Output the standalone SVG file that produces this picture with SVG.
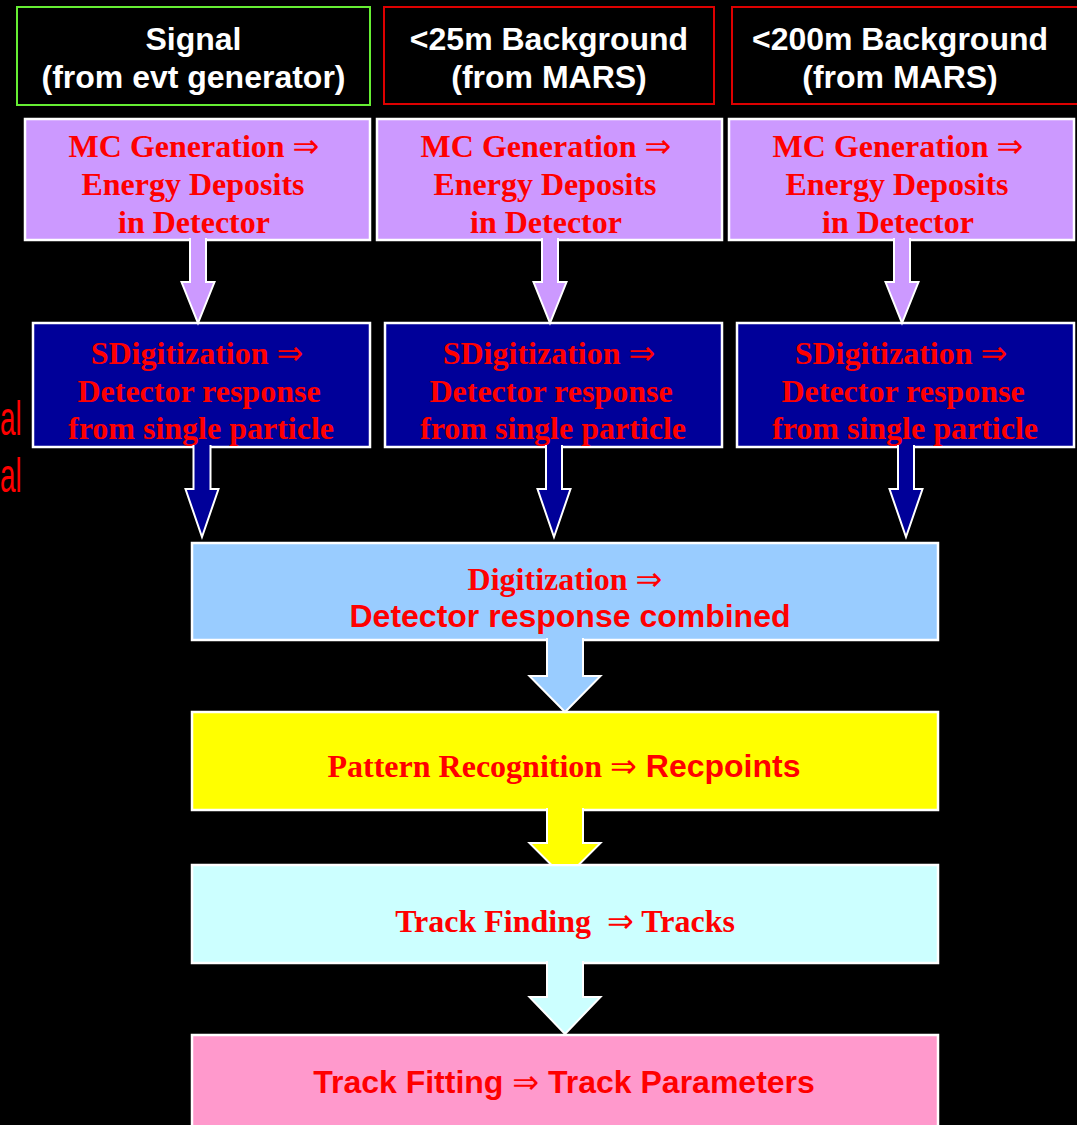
<svg xmlns="http://www.w3.org/2000/svg" width="1077" height="1125" viewBox="0 0 1077 1125">
<style>
.hdr{font-family:"Liberation Sans",Arial,sans-serif;font-weight:bold;font-size:32px;fill:#ffffff;text-anchor:middle}
.rs{font-family:"Liberation Serif","Times New Roman","DejaVu Serif",serif;font-weight:bold;font-size:32px;fill:#ff0000;text-anchor:middle;white-space:pre}
.rn{font-family:"Liberation Sans",Arial,sans-serif;font-weight:bold;font-size:32px;fill:#ff0000;text-anchor:middle}
.ar{font-family:"DejaVu Sans",sans-serif;font-weight:normal}
.sf{font-family:"Liberation Serif","Times New Roman",serif}
.box{stroke:#ffffff;stroke-width:2.5}
.arr{stroke:#ffffff;stroke-width:2;stroke-linejoin:miter}
.mc{fill:#cc99ff}
.sd{fill:#000099}
</style>
<rect x="0" y="0" width="1077" height="1125" fill="#000000"/>
<text transform="translate(0,435) scale(0.58,1)" font-family="Liberation Sans,Arial,sans-serif" font-size="48" fill="#ff0000">al</text>
<text transform="translate(0,492) scale(0.58,1)" font-family="Liberation Sans,Arial,sans-serif" font-size="48" fill="#ff0000">al</text>

<g id="hdr-signal">
<rect x="17" y="7" width="353" height="98" fill="#000000" stroke="#66ee33" stroke-width="2"/>
<text class="hdr" x="193.5" y="50">Signal</text>
<text class="hdr" x="193.5" y="88">(from evt generator)</text>
</g>
<g id="hdr-25m">
<rect x="384" y="7" width="330" height="97" fill="#000000" stroke="#dd0000" stroke-width="2"/>
<text class="hdr" x="549" y="50">&lt;25m Background</text>
<text class="hdr" x="549" y="88">(from MARS)</text>
</g>
<g id="hdr-200m">
<rect x="732" y="7" width="360" height="97" fill="#000000" stroke="#dd0000" stroke-width="2"/>
<text class="hdr" x="900" y="50">&lt;200m Background</text>
<text class="hdr" x="900" y="88">(from MARS)</text>
</g>

<g id="mc1">
<rect class="box mc" x="25" y="119" width="345" height="121"/>
<text class="rs" x="194" y="157">MC Generation <tspan class="ar">⇒</tspan></text>
<text class="rs" x="193" y="195">Energy Deposits</text>
<text class="rs" x="194" y="233">in Detector</text>
</g>
<g id="mc2">
<rect class="box mc" x="377" y="119" width="345" height="121"/>
<text class="rs" x="546" y="157">MC Generation <tspan class="ar">⇒</tspan></text>
<text class="rs" x="545" y="195">Energy Deposits</text>
<text class="rs" x="546" y="233">in Detector</text>
</g>
<g id="mc3">
<rect class="box mc" x="729" y="119" width="345" height="121"/>
<text class="rs" x="898" y="157">MC Generation <tspan class="ar">⇒</tspan></text>
<text class="rs" x="897" y="195">Energy Deposits</text>
<text class="rs" x="898" y="233">in Detector</text>
</g>

<g id="sd1">
<rect class="box sd" x="33" y="323" width="337" height="124"/>
<text class="rs" x="197" y="364">SDigitization <tspan class="ar">⇒</tspan></text>
<text class="rs" x="199" y="402">Detector response</text>
<text class="rs" x="201" y="439">from single particle</text>
</g>
<g id="sd2">
<rect class="box sd" x="385" y="323" width="337" height="124"/>
<text class="rs" x="549" y="364">SDigitization <tspan class="ar">⇒</tspan></text>
<text class="rs" x="551" y="402">Detector response</text>
<text class="rs" x="553" y="439">from single particle</text>
</g>
<g id="sd3">
<rect class="box sd" x="737" y="323" width="337" height="124"/>
<text class="rs" x="901" y="364">SDigitization <tspan class="ar">⇒</tspan></text>
<text class="rs" x="903" y="402">Detector response</text>
<text class="rs" x="905" y="439">from single particle</text>
</g>

<g id="digi">
<rect class="box" x="192" y="543" width="746" height="97" fill="#99ccff"/>
<text class="rs" x="565" y="590">Digitization <tspan class="ar">⇒</tspan></text>
<text class="rn" x="570" y="627">Detector response combined</text>
</g>
<g id="patrec">
<rect class="box" x="192" y="712" width="746" height="98" fill="#ffff00"/>
<text class="rn" x="564" y="777"><tspan class="sf">Pattern Recognition </tspan><tspan class="ar">⇒</tspan> Recpoints</text>
</g>
<g id="trackfind">
<rect class="box" x="192" y="865" width="746" height="98" fill="#ccffff"/>
<text class="rs" x="565" y="932">Track Finding  <tspan class="ar">⇒</tspan> Tracks</text>
</g>
<g id="trackfit">
<rect class="box" x="192" y="1035" width="746" height="110" fill="#ff99cc"/>
<text class="rn" x="564" y="1093">Track Fitting <tspan class="ar">⇒</tspan> Track Parameters</text>
</g>

<g id="connectors">
<path class="arr mc" d="M190,238 V282 H181.5 L198,323 L214.5,282 H206 V238"/>
<path class="arr mc" d="M542,238 V282 H533.5 L550,323 L566.5,282 H558 V238"/>
<path class="arr mc" d="M894,238 V282 H885.5 L902,323 L918.5,282 H910 V238"/>
<path class="arr sd" d="M193.5,445 V489 H185.5 L202,537 L218.5,489 H210.5 V445"/>
<path class="arr sd" d="M546,445 V489 H537.5 L554,537 L570.5,489 H562 V445"/>
<path class="arr sd" d="M898,445 V489 H889.5 L906,537 L922.5,489 H914 V445"/>
<path class="arr" fill="#99ccff" d="M547,638 V676 H529.5 L565,712 L600.5,676 H583 V638"/>
<path class="arr" fill="#ffff00" d="M547,808 V843 H529.5 L551.5,865 H578.5 L600.5,843 H583 V808"/>
<path class="arr" fill="#ccffff" d="M547,961 V997 H529.5 L565,1034 L600.5,997 H583 V961"/>
</g>
</svg>
